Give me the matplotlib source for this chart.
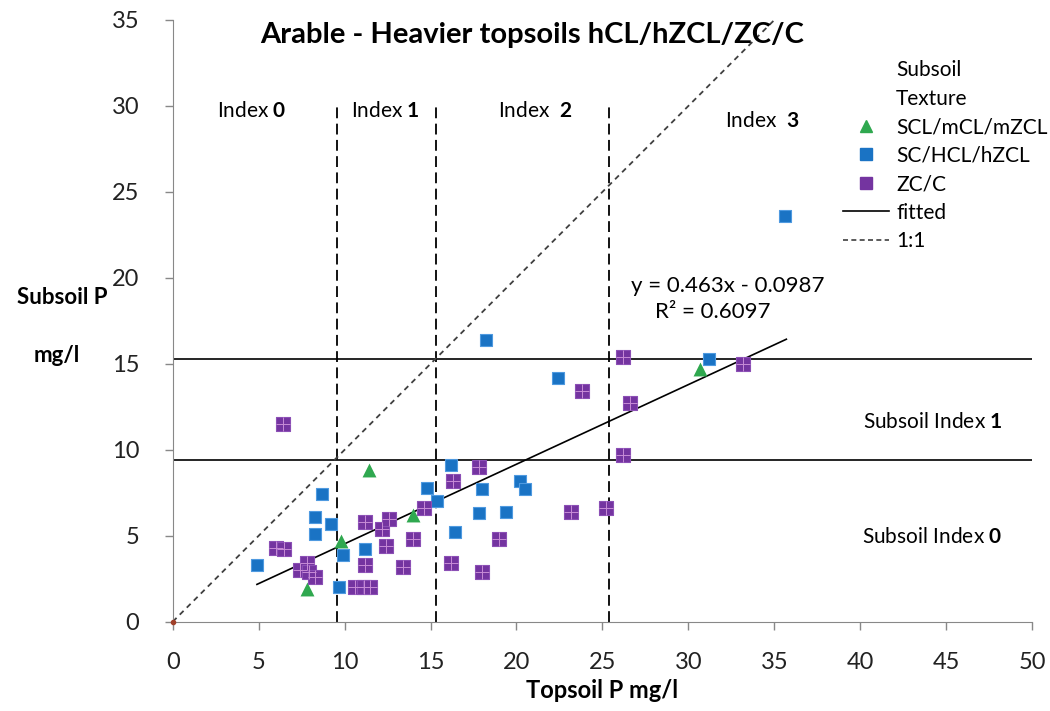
import matplotlib
matplotlib.use("Agg")
import matplotlib.pyplot as plt
from matplotlib.lines import Line2D

plt.rcParams['font.family'] = ['Lato', 'DejaVu Sans']
plt.rcParams['mathtext.fontset'] = 'custom'
plt.rcParams['mathtext.rm'] = 'Lato'
plt.rcParams['mathtext.bf'] = 'Lato:bold'

# Topsoil / subsoil P (mg/l) by subsoil texture
scl_x = [7.8, 9.8, 11.4, 14.0, 30.7]
scl_y = [1.9, 4.7, 8.8, 6.2, 14.7]

sc_x = [4.9, 8.3, 8.3, 8.7, 9.2, 9.7, 9.9, 11.2, 14.8, 15.4, 16.2,
        16.4, 17.8, 18.0, 18.2, 19.4, 20.2, 20.5, 22.4, 31.2, 35.6]
sc_y = [3.3, 5.1, 6.1, 7.4, 5.7, 2.0, 3.9, 4.2, 7.8, 7.0, 9.1,
        5.2, 6.3, 7.7, 16.4, 6.4, 8.2, 7.7, 14.2, 15.3, 23.6]

zc_x = [6.0, 6.5, 6.4, 7.4, 7.8, 7.9, 8.3, 10.6, 11.1, 11.5, 11.2, 11.2,
        12.2, 12.4, 12.6, 13.4, 14.0, 14.6, 16.3, 16.2, 17.8, 18.0, 19.0,
        23.2, 23.8, 25.2, 26.2, 26.6, 26.2, 33.2]
zc_y = [4.3, 4.2, 11.5, 3.0, 3.4, 2.9, 2.6, 2.0, 2.0, 2.0, 5.8, 3.3,
        5.4, 4.4, 6.0, 3.2, 4.8, 6.6, 8.2, 3.4, 9.0, 2.9, 4.8,
        6.4, 13.4, 6.6, 15.4, 12.7, 9.7, 15.0]

slope, intercept = 0.463, -0.0987
fit_range = [4.9, 35.7]

topsoil_bounds = [9.55, 15.3, 25.4]
subsoil_bounds = [9.4, 15.3]

fig = plt.figure(figsize=(10.5, 7.11), dpi=100)
ax = fig.add_axes([0.1645, 0.1256, 0.8185, 0.8463])

green = '#2fa84f'
blue = '#1a73c4'
purple = '#7434a0'

# index boundaries
for xb in topsoil_bounds:
    ax.plot([xb, xb], [0, 30.2], color='black', lw=1.3, ls=(0, (6, 3)), zorder=1)
for yb in subsoil_bounds:
    ax.axhline(yb, color='black', lw=1.2, zorder=1)

# 1:1 line
ax.plot([0, 35], [0, 35], color='#404040', lw=1.3, ls=(0, (3, 2.5)), zorder=1)
ax.plot([0], [0], marker='o', ms=3, color='#a0402a', zorder=3, clip_on=False)

# fitted line
fx = fit_range
fy = [slope * v + intercept for v in fx]
ax.plot(fx, fy, color='black', lw=1.2, zorder=4)

ax.scatter(scl_x, scl_y, marker='^', s=100, color=green, linewidths=0, zorder=5)
ax.scatter(sc_x, sc_y, marker='s', s=78, color=blue, edgecolors='#4f9ae0',
           linewidths=0.8, zorder=5)
ax.scatter(zc_x, zc_y, marker='s', s=92, color=purple, edgecolors='#8b4fb5',
           linewidths=0.8, zorder=5)
ax.scatter(zc_x, zc_y, marker='+', s=92, color='#c78bd6', linewidths=0.7, zorder=6)

ax.set_xlim(0, 50)
ax.set_ylim(0, 35)
ax.set_xticks(range(0, 51, 5))
ax.set_yticks(range(0, 36, 5))
for side in ['top', 'right']:
    ax.spines[side].set_visible(False)
for side in ['left', 'bottom']:
    ax.spines[side].set_color('#888888')
ax.tick_params(axis='both', colors='#888888', labelcolor='#222222',
               labelsize=17, length=6, width=1)
ax.tick_params(axis='x', pad=16)
ax.tick_params(axis='y', pad=18)

# text labels
tfs = 15
ax.text(4.6, 29.7, r'Index $\mathbf{0}$', fontsize=tfs, ha='center', va='center')
ax.text(12.4, 29.7, r'Index $\mathbf{1}$', fontsize=tfs, ha='center', va='center')
ax.text(21.1, 29.7, r'Index  $\mathbf{2}$', fontsize=tfs, ha='center', va='center')
ax.text(34.3, 29.1, r'Index  $\mathbf{3}$', fontsize=tfs, ha='center', va='center')
ax.text(44.2, 11.6, r'Subsoil Index $\mathbf{1}$', fontsize=tfs, ha='center', va='center')
ax.text(44.2, 4.9, r'Subsoil Index $\mathbf{0}$', fontsize=tfs, ha='center', va='center')

ax.text(32.3, 19.5, 'y = 0.463x - 0.0987', fontsize=16, ha='center', va='center')
ax.text(31.4, 18.0, 'R² = 0.6097', fontsize=16, ha='center', va='center')

ax.text(20.9, 34.1, 'Arable - Heavier topsoils hCL/hZCL/ZC/C', fontsize=21,
        fontweight='bold', ha='center', va='center')

fig.text(602 / 1050, 1 - 690 / 711, 'Topsoil P mg/l', fontsize=17,
         fontweight='bold', ha='center', va='center')
fig.text(62 / 1050, 1 - 297 / 711, 'Subsoil P', fontsize=16,
         fontweight='bold', ha='center', va='center')
fig.text(57 / 1050, 1 - 356 / 711, 'mg/l', fontsize=16,
         fontweight='bold', ha='center', va='center')

handles = [
    Line2D([], [], ls='none'),
    Line2D([], [], ls='none'),
    Line2D([], [], ls='none', marker='^', ms=9, color=green),
    Line2D([], [], ls='none', marker='s', ms=8, color=blue),
    Line2D([], [], ls='none', marker='s', ms=8, color=purple),
    Line2D([], [], color='black', lw=1.2),
    Line2D([], [], color='#404040', lw=1.2, ls=(0, (3, 2))),
]
labels = ['Subsoil', 'Texture', 'SCL/mCL/mZCL', 'SC/HCL/hZCL', 'ZC/C', 'fitted', '1:1']
fig.legend(handles, labels, loc='upper left', bbox_to_anchor=(843 / 1050, 1 - 60 / 711),
           frameon=False, fontsize=15, borderpad=0, borderaxespad=0,
           handlelength=2.2, handletextpad=0.35, labelspacing=0.41)

fig.savefig('out.png', dpi=100)
